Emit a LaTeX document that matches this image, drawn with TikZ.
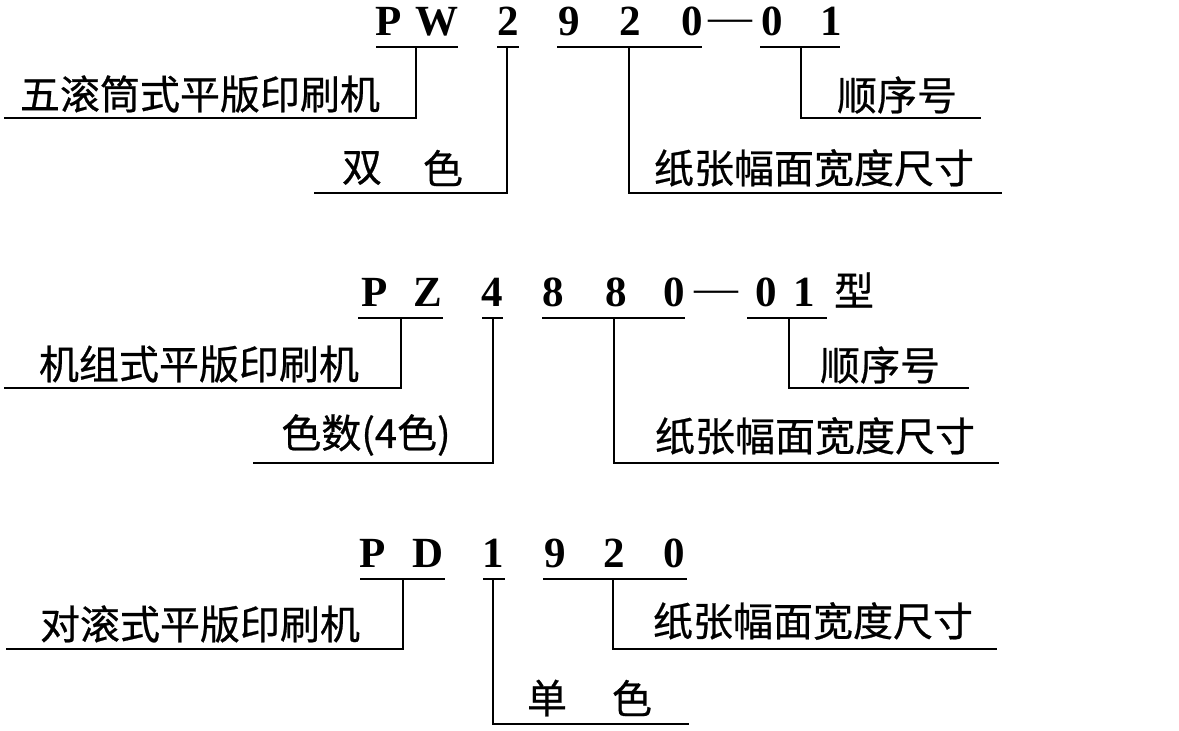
\documentclass[tikz,border=0pt]{standalone}
\usepackage{fontspec}
\newfontfamily\cjk{Noto Sans CJK SC}[FakeBold=0.6]
\newfontfamily\codefont{Liberation Serif}
\begin{document}
\begin{tikzpicture}[x=1pt,y=-1pt,line width=1.6pt,
  code/.style={font=\codefont\bfseries\fontsize{43}{50}\selectfont,inner sep=0pt,anchor=base},
  dashc/.style={font=\codefont\fontsize{44}{50}\selectfont,inner sep=0pt,anchor=base,text height=14pt,text depth=0pt},
  lab/.style={font=\cjk\fontsize{40}{48}\selectfont,inner sep=0pt}]
\useasboundingbox (0,0) rectangle (1179,731);
% ---------- top: PW2920-01 ----------
\node[code] (aP) at (389,35) {P};
\node[code] (aW) at (437,35) {W};
\node[code] (a2) at (508,35) {2};
\node[code] (a9) at (569,35) {9};
\node[code] (a2b) at (630,35) {2};
\node[code] (a0) at (692,35) {0};
\node[dashc] (ad) at (730,31) {—};
\node[code] (a0b) at (772,35) {0};
\node[code] (a1) at (831,35) {1};
\node[lab] (al1) at (200,94) {五滚筒式平版印刷机};
\node[lab] (al2) at (897,95) {顺序号};
\node[lab] (al3) at (362,168) {双};
\node[lab] (al4) at (443,168) {色};
\node[lab] (al5) at (814,168) {纸张幅面宽度尺寸};
\coordinate (au1a) at (376,47); \coordinate (au1b) at (458,47);
\coordinate (av1) at (416,47);  \coordinate (ae1) at (4,118);
\coordinate (au2a) at (497,47); \coordinate (au2b) at (519,47);
\coordinate (av2) at (507,47);  \coordinate (ae2) at (314,193);
\coordinate (au3a) at (557,47); \coordinate (au3b) at (702,47);
\coordinate (av3) at (629,47);  \coordinate (ae3) at (1002,193);
\coordinate (au4a) at (760,47); \coordinate (au4b) at (840,47);
\coordinate (av4) at (801,47);  \coordinate (ae4) at (981,118);
\draw (au1a) -- (au1b); \draw (av1) |- (ae1);
\draw (au2a) -- (au2b); \draw (av2) |- (ae2);
\draw (au3a) -- (au3b); \draw (av3) |- (ae3);
\draw (au4a) -- (au4b); \draw (av4) |- (ae4);
% ---------- middle: PZ4880-01 ----------
\node[code] (bP) at (375,306) {P};
\node[code] (bZ) at (428,306) {Z};
\node[code] (b4) at (492,306) {4};
\node[code] (b8) at (553,306) {8};
\node[code] (b8b) at (616,306) {8};
\node[code] (b0) at (674,306) {0};
\node[dashc] (bd) at (716,302) {—};
\node[code] (b0b) at (766,306) {0};
\node[code] (b1) at (804,306) {1};
\node[lab] (bx) at (854,290) {型};
\node[lab] (bl1) at (199,364) {机组式平版印刷机};
\node[lab] (bl2) at (880,365) {顺序号};
\node[lab] (bl3) at (366,435) {色数(4色)};
\node[lab] (bl5) at (815,436) {纸张幅面宽度尺寸};
\coordinate (bu1a) at (358,318); \coordinate (bu1b) at (443,318);
\coordinate (bv1) at (401,318);  \coordinate (be1) at (4,388);
\coordinate (bu2a) at (482,318); \coordinate (bu2b) at (503,318);
\coordinate (bv2) at (493,318);  \coordinate (be2) at (253,463);
\coordinate (bu3a) at (542,318); \coordinate (bu3b) at (685,318);
\coordinate (bv3) at (614,318);  \coordinate (be3) at (999,463);
\coordinate (bu4a) at (747,318); \coordinate (bu4b) at (827,318);
\coordinate (bv4) at (789,318);  \coordinate (be4) at (969,388);
\draw (bu1a) -- (bu1b); \draw (bv1) |- (be1);
\draw (bu2a) -- (bu2b); \draw (bv2) |- (be2);
\draw (bu3a) -- (bu3b); \draw (bv3) |- (be3);
\draw (bu4a) -- (bu4b); \draw (bv4) |- (be4);
% ---------- bottom: PD1920 ----------
\node[code] (cP) at (373,567) {P};
\node[code] (cD) at (428,567) {D};
\node[code] (c1) at (493,567) {1};
\node[code] (c9) at (555,567) {9};
\node[code] (c2) at (614,567) {2};
\node[code] (c0) at (674,567) {0};
\node[lab] (cl1) at (200,624) {对滚式平版印刷机};
\node[lab] (cl2) at (813,621) {纸张幅面宽度尺寸};
\node[lab] (cl3) at (547,698) {单};
\node[lab] (cl4) at (632,698) {色};
\coordinate (cu1a) at (360,579); \coordinate (cu1b) at (445,579);
\coordinate (cv1) at (403,579);  \coordinate (ce1) at (6,649);
\coordinate (cu2a) at (483,579); \coordinate (cu2b) at (505,579);
\coordinate (cv2) at (493,579);  \coordinate (ce2) at (689,724);
\coordinate (cu3a) at (543,579); \coordinate (cu3b) at (687,579);
\coordinate (cv3) at (613,579);  \coordinate (ce3) at (997,649);
\draw (cu1a) -- (cu1b); \draw (cv1) |- (ce1);
\draw (cu2a) -- (cu2b); \draw (cv2) |- (ce2);
\draw (cu3a) -- (cu3b); \draw (cv3) |- (ce3);
\end{tikzpicture}
\end{document}
